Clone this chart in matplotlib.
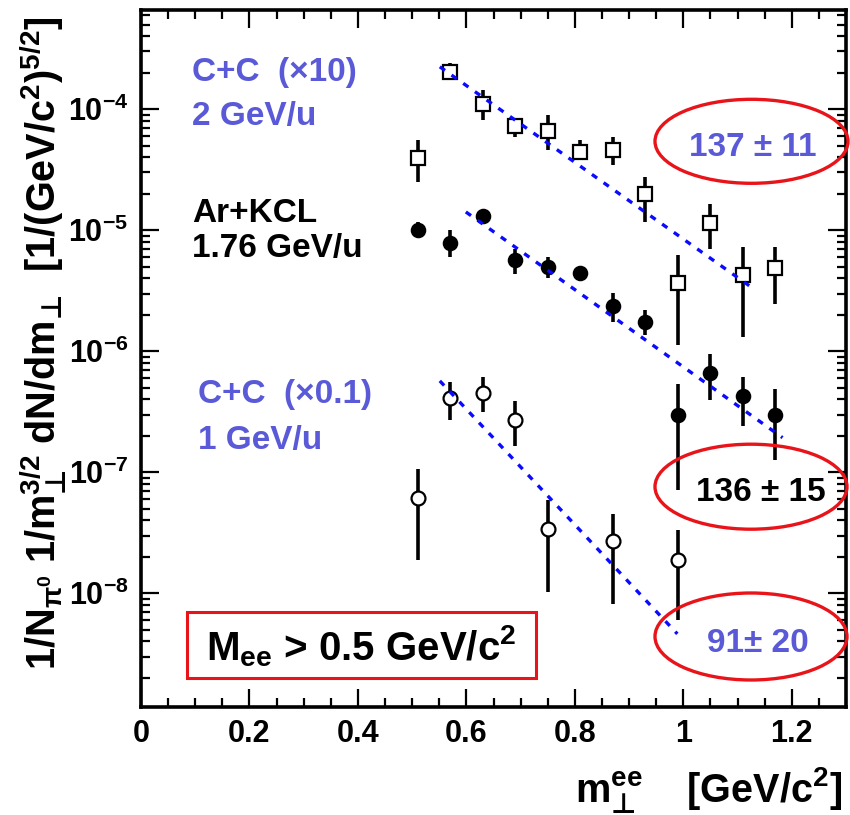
import numpy as np
import matplotlib
matplotlib.use("Agg")
import matplotlib.pyplot as plt
from matplotlib.patches import Ellipse, Rectangle
from matplotlib.ticker import FixedLocator, NullFormatter, MultipleLocator

plt.rcParams['font.family'] = ['Liberation Sans', 'DejaVu Sans']
plt.rcParams['font.weight'] = 'bold'
plt.rcParams['mathtext.fontset'] = 'custom'
plt.rcParams['mathtext.rm'] = 'Liberation Sans:bold'
plt.rcParams['mathtext.it'] = 'Liberation Sans:bold'
plt.rcParams['mathtext.bf'] = 'Liberation Sans:bold'
plt.rcParams['mathtext.sf'] = 'DejaVu Sans:bold'
plt.rcParams['mathtext.default'] = 'bf'

PERP = '\\mathsf{\u22a5}'

# transverse mass bins [GeV/c^2]
mt_bins = [0.51, 0.57, 0.63, 0.69, 0.75, 0.81, 0.87, 0.93, 0.99, 1.05, 1.11, 1.17]

# C+C 2 GeV/u (x10)
cc2_y = [3.92e-5, 2.03e-4, 1.11e-4, 7.24e-5, 6.63e-5, 4.43e-5, 4.58e-5, 1.99e-5,
         3.66e-6, 1.15e-5, 4.25e-6, 4.92e-6]
cc2_hi = [5.55e-5, 2.4e-4, 1.44e-4, 8.4e-5, 8.9e-5, 5.55e-5, 5.87e-5, 2.75e-5,
          6.2e-6, 1.64e-5, 7.28e-6, 7.28e-6]
cc2_lo = [2.51e-5, 1.8e-4, 8.1e-5, 5.9e-5, 4.58e-5, 3.93e-5, 3.44e-5, 1.17e-5,
          1.12e-6, 7.06e-6, 1.31e-6, 2.48e-6]

# Ar+KCl 1.76 GeV/u
ar_y = [1.0e-5, 7.85e-6, 1.31e-5, 5.65e-6, 4.98e-6, 4.39e-6, 2.37e-6, 1.75e-6,
        2.96e-7, 6.67e-7, 4.25e-7, 3.0e-7]
ar_hi = [1.17e-5, 1.0e-5, 1.41e-5, 7.0e-6, 6.0e-6, 5.0e-6, 3.05e-6, 2.2e-6,
         5.41e-7, 9.57e-7, 6.14e-7, 4.92e-7]
ar_lo = [8.8e-6, 6.0e-6, 1.14e-5, 4.37e-6, 4.0e-6, 3.9e-6, 1.75e-6, 1.37e-6,
         7.1e-8, 3.94e-7, 2.4e-7, 1.26e-7]

# C+C 1 GeV/u (x0.1)
cc1_x = [0.51, 0.57, 0.63, 0.69, 0.75, 0.87, 0.99]
cc1_y = [6.14e-8, 4.11e-7, 4.55e-7, 2.72e-7, 3.38e-8, 2.71e-8, 1.90e-8]
cc1_hi = [1.07e-7, 5.57e-7, 6.14e-7, 3.88e-7, 5.87e-8, 4.56e-8, 3.32e-8]
cc1_lo = [1.88e-8, 2.69e-7, 3.15e-7, 1.64e-7, 1.03e-8, 8.1e-9, 6.0e-9]

# exponential fits: inverse slope T [GeV], start point, range
fit_T = [0.137, 0.136, 0.091]
fit_m0 = [0.551, 0.599, 0.551]
fit_m1 = [1.133, 1.183, 0.989]
fit_A = [2.24e-4, 1.416e-5, 5.69e-7]
fit_labels = ["137 \u00b1 11", "136 \u00b1 15", "91\u00b1 20"]

BLUE_TXT = '#5a5ad8'
FIT_BLUE = '#0a0aff'

fig = plt.figure(figsize=(8.5, 8.15), dpi=100)
ax = fig.add_axes([141/850, 1 - 707/815, 705/850, 697/815])
ax.set_xlim(0, 1.3)
ax.set_yscale('log')
ax.set_ylim(1.15e-9, 6.6e-4)


def errs(y, lo, hi):
    y = np.asarray(y)
    return [y - np.asarray(lo), np.asarray(hi) - y]


ebkw = dict(ecolor='black', elinewidth=2.6, capsize=0, linestyle='none', zorder=3)
ax.errorbar(mt_bins, cc2_y, yerr=errs(cc2_y, cc2_lo, cc2_hi), marker='s',
            markersize=10.5, mfc='white', mec='black', mew=1.6, **ebkw)
ax.errorbar(mt_bins, ar_y, yerr=errs(ar_y, ar_lo, ar_hi), marker='o',
            markersize=10, mfc='black', mec='black', mew=1.2, **ebkw)
ax.errorbar(cc1_x, cc1_y, yerr=errs(cc1_y, cc1_lo, cc1_hi), marker='o',
            markersize=10, mfc='white', mec='black', mew=1.6, **ebkw)

for T, m0, m1, A in zip(fit_T, fit_m0, fit_m1, fit_A):
    m = np.linspace(m0, m1, 100)
    ax.plot(m, A * np.exp(-(m - m0) / T), color=FIT_BLUE, lw=2.4,
            linestyle=(0, (1.9, 2.4)), zorder=4)

# axes styling
for s in ax.spines.values():
    s.set_linewidth(2.6)
xt = [0, 0.2, 0.4, 0.6, 0.8, 1.0, 1.2]
ax.set_xticks(xt)
ax.set_xticklabels(['0', '0.2', '0.4', '0.6', '0.8', '1', '1.2'])
ax.xaxis.set_minor_locator(MultipleLocator(0.05))
ymaj = [1e-8, 1e-7, 1e-6, 1e-5, 1e-4]
ax.yaxis.set_major_locator(FixedLocator(ymaj))
ymin = [k * 10.0 ** e for e in range(-9, -3) for k in range(2, 10)]
ax.yaxis.set_minor_locator(FixedLocator(ymin))
ax.yaxis.set_minor_formatter(NullFormatter())
ax.set_yticklabels([r'$10^{%d}$' % e for e in range(-8, -3)])
ax.tick_params(which='both', direction='in', top=True, right=True,
               width=1.6, labelsize=22, colors='black')
ax.tick_params(which='major', length=13)
ax.tick_params(which='minor', length=6.5)
ax.tick_params(axis='x', pad=9)
ax.tick_params(axis='y', pad=9)

# axis titles
fig.text(43/850, 1 - 343/815,
         r'1/N$_{\pi^0}$ 1/m$_{%s}^{3/2}$ dN/dm$_{%s}$  [1/(GeV/c$^2$)$^{5/2}$]' % (PERP, PERP),
         rotation=90, ha='center', va='center', fontsize=28.5)
fig.text(842/850, 1 - 802/815, r'm$_{%s}^{ee}$    [GeV/c$^2$]' % PERP,
         ha='right', va='baseline', fontsize=28.5)


def axfrac(px, py):
    return (px - 141) / 705, (707 - py) / 697


# system labels
labels = [("C+C  (\u00d710)", 192, 72, BLUE_TXT),
          ("2 GeV/u", 192, 116, BLUE_TXT),
          ("Ar+KCL", 192, 214, 'black'),
          ("1.76 GeV/u", 192, 249, 'black'),
          ("C+C  (\u00d70.1)", 198, 394, BLUE_TXT),
          ("1 GeV/u", 198, 441, BLUE_TXT)]
for txt, px, py, c in labels:
    xa, ya = axfrac(px, py)
    ax.text(xa, ya, txt, transform=ax.transAxes, ha='left', va='center',
            fontsize=24, color=c)

# slope parameter ellipses
ell = [(751.5, 141.3, 193, 84, 753, 147, BLUE_TXT),
       (751, 486.7, 192, 85, 761, 492.7, 'black'),
       (751, 636.5, 192, 87, 758, 643.3, BLUE_TXT)]
for (cx, cy, w, h, tx, ty, c), lab in zip(ell, fit_labels):
    xa, ya = axfrac(cx, cy)
    ax.add_patch(Ellipse((xa, ya), w / 705, h / 697, transform=ax.transAxes,
                         fill=False, edgecolor='#e8141a', lw=2.4, clip_on=False,
                         zorder=5))
    xa, ya = axfrac(tx, ty)
    ax.text(xa, ya, lab, transform=ax.transAxes, ha='center', va='center',
            fontsize=24, color=c, zorder=6)

# mass cut box
x0, y0 = axfrac(187, 678)
x1, y1 = axfrac(536, 612)
ax.add_patch(Rectangle((x0, y0), x1 - x0, y1 - y0, transform=ax.transAxes,
                       fill=False, edgecolor='#e8141a', lw=2.2, zorder=5))
xa, ya = axfrac(361, 646)
ax.text(xa, ya, r'M$_{ee}$ > 0.5 GeV/c$^2$', transform=ax.transAxes,
        ha='center', va='center', fontsize=29, color='black')

fig.savefig('out.png', dpi=100)
